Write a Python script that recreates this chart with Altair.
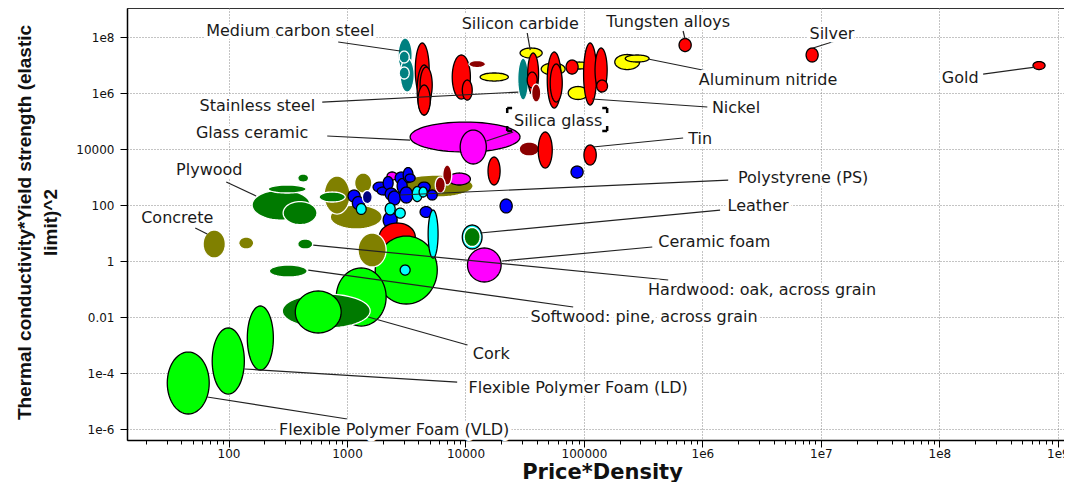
import numpy as np
import pandas as pd
import altair as alt

# ---------------- data: material bubbles (property ranges) ----------------
# kind codes: R metal, M dark metal, T steel, Y ceramic, P glass, O composite,
# G wood, L foam, B polymer, N dark polymer, C elastomer
ell_kind = [
    "P",
    "T", "T", "T", "T", "R", "R", "R", "R", "R", "R", "M", "Y", "Y", "T", "R", "R", "M",
    "Y", "Y", "Y", "Y", "R", "R", "R", "R", "R", "R", "Y", "Y", "R", "R", "R",
    "P", "M", "R", "R", "R", "B",
    "O", "O", "O", "G", "O", "P", "M", "M", "P",
    "B", "B", "C", "N", "B", "B", "B", "B", "B", "B", "B", "B", "B", "B",
    "B", "C", "C", "B", "B", "C", "C", "B", "B",
    "G", "G", "G", "G", "O", "O", "G", "G",
    "R", "L", "O", "C", "C", "C", "G", "P",
    "L", "G", "L", "L", "L", "L",
]
ell_x_lo = [
    3410,
    2700, 2810, 2760, 2760, 3770, 3910, 4140, 3980, 7730, 9400, 10700, 13300, 28900, 27600, 33500, 33200, 36200,
    43600, 73600, 73600, 102000, 49000, 51900, 70600, 99300, 124000, 128000, 182000, 223000, 635000, 7.5e6, 6.17e8,
    9020, 28400, 41100, 15500, 100000, 77800,
    723, 641, 1160, 582, 2760, 7140, 6430, 5560, 2180,
    1020, 1110, 1200, 1350, 1660, 1800, 2020, 2100, 2230, 2550, 2650, 2980, 3100, 2790,
    2020, 2100, 2550, 4140, 3980, 3550, 4060, 4750, 19600,
    158, 289, 216, 384, 61, 122, 384, 221,
    1870, 1730, 1240, 2810, 4840, 9400, 9750, 10400,
    811, 284, 366, 144, 72.8, 30.4,
]
ell_x_hi = [
    28900,
    3550, 3690, 3350, 3350, 4940, 5130, 5240, 5040, 11000, 11400, 14700, 23000, 44400, 34100, 41400, 40300, 43200,
    69300, 113000, 108000, 145000, 64300, 65600, 89300, 128000, 157000, 158000, 295000, 355000, 804000, 9.48e6, 7.8e8,
    15000, 41900, 54000, 19600, 127000, 98400,
    1980, 1060, 1620, 966, 11600, 11000, 7660, 6750, 2650,
    1290, 1400, 1450, 1630, 2180, 2280, 2450, 2650, 2820, 3220, 3220, 3610, 3760, 3590,
    2650, 2550, 3100, 5240, 5040, 4310, 4750, 5770, 24800,
    490, 558, 452, 474, 94, 163, 513, 461,
    3770, 5780, 2140, 3410, 5870, 13800, 13300, 20000,
    2140, 1570, 893, 239, 136, 68.7,
]
ell_y_lo = [
    7800,
    5.62e6, 1.08e6, 1.18e7, 3.16e6, 7.2e5, 1.64e5, 4.4e5, 1.64e5, 6.1e5, 5.6e5, 8.1e6, 2.68e6, 1.77e7, 5.6e5, 8.5e5, 1.51e6, 4.78e5,
    4.4e6, 7.2e6, 5.86e5, 7.2e6, 2.91e5, 4.76e5, 4.76e6, 3.72e5, 1.08e6, 1.09e6, 6.9e6, 1.28e7, 3.03e7, 1.28e7, 6.9e6,
    2910, 5620, 2090, 518, 2680, 920,
    13.9, 47.6, 268, 128, 193, 518, 518, 268, 780,
    128, 69, 46, 113, 290, 228, 357, 151, 100, 562, 257, 635, 662, 118,
    15, 44, 34, 36, 290, 133, 193, 151, 52,
    29, 20, 268, 662, 1.28, 2.68, 2.68, 0.268,
    2.28, 0.0291, 0.61, 0.315, 1.28, 2.68, 3.3, 0.178,
    0.00476, 0.00405, 0.00269, 1.28e-4, 1.77e-5, 3.43e-6,
]
ell_y_hi = [
    92000,
    9.2e7, 1.77e7, 3.15e7, 8.5e6, 6.1e7, 1.0e7, 8.5e6, 1.93e6, 2.28e7, 2.91e6, 1.45e7, 5.2e6, 4.05e7, 1.78e7, 2.68e7, 5.6e6, 2.09e6,
    1.18e7, 1.28e7, 1.71e6, 2.28e7, 2.91e7, 1.09e7, 1.51e7, 6.1e7, 4.05e7, 2.91e6, 2.37e7, 2.28e7, 8.83e7, 4.05e7, 1.33e7,
    47600, 17800, 40500, 5180, 13900, 2470,
    100, 1090, 1390, 291, 1180, 1390, 2680, 1000, 1510,
    343, 201, 113, 329, 662, 440, 1040, 404, 316, 1510, 883, 2180, 1280, 440,
    56, 118, 78, 88, 662, 457, 440, 344, 164,
    344, 133, 518, 1280, 12.8, 7.18, 6.11, 0.718,
    22.8, 7.8, 10, 0.72, 66, 19.3, 15.7, 2.91,
    0.562, 0.0662, 0.0849, 0.0247, 4.05e-3, 5.61e-4,
]

# ---------------- data: labels and leader lines ----------------
lab_text = [
    "Medium carbon steel", "Stainless steel", "Glass ceramic", "Silicon carbide",
    "Tungsten alloys", "Silver", "Aluminum nitride", "Gold", "Nickel", "Silica glass",
    "Tin", "Plywood", "Polystyrene (PS)", "Concrete", "Leather", "Ceramic foam",
    "Hardwood: oak, across grain", "Softwood: pine, across grain", "Cork",
    "Flexible Polymer Foam (LD)", "Flexible Polymer Foam (VLD)",
]
lab_x = [332, 175, 158, 2.9e4, 5.14e5, 1.24e7, 3.58e6, 1.5e8, 1.92e6, 6.05e4,
         9.57e5, 68.8, 7.08e6, 36.9, 2.95e6, 1.26e6, 3.19e6, 3.22e5, 1.65e4, 8.93e4, 2500]
lab_y = [1.64e8, 3.43e5, 3.72e4, 2.91e8, 3.43e8, 1.28e8, 2.91e6, 3.43e6, 2.91e5, 1.0e5,
         2.28e4, 1780, 920, 34.3, 92, 4.76, 0.092, 0.01, 4.76e-4, 2.91e-5, 9.2e-7]
ld_x1 = [843, 618, 681, 3.32e4, 6.87e5, 8.59e6, 3.48e5, 2.34e8, 1.17e5, 2.53e4,
         1.19e5, 95.7, 2810, 52.4, 1.33e4, 2.04e4, 519, 471, 1510, 136, 66.1]
ld_y1 = [6.62e7, 4.76e5, 2.91e4, 1.39e8, 1.64e8, 4.05e7, 1.64e7, 4.76e6, 6.1e5, 4.05e4,
         1.18e4, 662, 228, 15.1, 10, 1.0, 3.72, 0.476, 0.01, 1.39e-4, 1.39e-5]
ld_x2 = [2810, 2.79e4, 3410, 3.52e4, 7.14e5, 1.32e7, 1.1e6, 6.43e8, 1.1e6, 1.5e4,
         6.87e5, 171, 1.65e6, 66.1, 1.41e6, 3.77e5, 5.14e5, 8.11e4, 1.04e4, 8510, 1005]
ld_y2 = [3.16e7, 1.08e6, 2.09e4, 3.43e7, 8.47e7, 7.2e7, 6.1e6, 8.47e6, 3.16e5, 1.93e4,
         2.47e4, 209, 780, 9.2, 66.2, 3.16, 0.21, 0.0228, 1e-3, 4.76e-5, 2.28e-6]

# selection bracket around "Silica glass"
box_x = [2.25e4, 1.57e5]
box_y = [4.4e4, 2.91e5]

x_ticks = [100, 1000, 10000, 100000, 1e6, 1e7, 1e8, 1e9]
y_ticks = [1e-6, 1e-4, 0.01, 1, 100, 10000, 1e6, 1e8]
x_domain = [13.9, 1.127e9]
y_domain = [4.05e-7, 1.087e9]

# ---------------- styling ----------------
kind_fill = {"R": "#ff0000", "M": "#8b0000", "T": "#008080", "Y": "#ffff00", "P": "#ff00ff",
             "O": "#808000", "G": "#007a00", "L": "#00ff00", "B": "#0000ff", "N": "#000080",
             "C": "#00ffff"}
kind_stroke = {"R": "black", "M": "white", "T": "white", "Y": "black", "P": "black",
               "O": "white", "G": "white", "L": "black", "B": "black", "N": "white",
               "C": "black"}

# ellipse outlines (in log space, which is linear on screen)
t = np.linspace(0, 2 * np.pi, 61)
rows = []
for i, k in enumerate(ell_kind):
    lx0, lx1 = np.log10(ell_x_lo[i]), np.log10(ell_x_hi[i])
    ly0, ly1 = np.log10(ell_y_lo[i]), np.log10(ell_y_hi[i])
    cx, rx = (lx0 + lx1) / 2, (lx1 - lx0) / 2
    cy, ry = (ly0 + ly1) / 2, (ly1 - ly0) / 2
    for j, tt in enumerate(t):
        rows.append({"id": f"e{i:03d}", "k": j,
                     "x": 10 ** (cx + rx * np.cos(tt)), "y": 10 ** (cy + ry * np.sin(tt)),
                     "fill": kind_fill[k], "stroke": kind_stroke[k]})
ell_df = pd.DataFrame(rows)

lab_df = pd.DataFrame({"text": lab_text, "x": lab_x, "y": lab_y})
ld_df = pd.DataFrame({"x": ld_x1, "y": ld_y1, "x2": ld_x2, "y2": ld_y2})

# bracket corners
hx, hy = 1.10, 1.51
bx0, bx1 = box_x
by0, by1 = box_y
br_df = pd.DataFrame({
    "x":  [bx0, bx0, bx1 / hx, bx1, bx0, bx0, bx1 / hx, bx1],
    "x2": [bx0 * hx, bx0, bx1, bx1, bx0 * hx, bx0, bx1, bx1],
    "y":  [by1, by1 / hy, by1, by1 / hy, by0, by0, by0, by0],
    "y2": [by1, by1, by1, by1, by0, by0 * hy, by0, by0 * hy],
})

minor = [m * d for d in [10, 100, 1000, 1e4, 1e5, 1e6, 1e7, 1e8] for m in range(2, 10)
         if x_domain[0] <= m * d <= x_domain[1]]

label_expr = ("(datum.value >= 1e6 || datum.value < 0.001) ? "
              "'1e' + round(log(datum.value) / LN10) : format(datum.value, '~g')")

xs = alt.Scale(type="log", domain=x_domain, nice=False)
ys = alt.Scale(type="log", domain=y_domain, nice=False)

x_axis = alt.Axis(values=x_ticks, labelExpr=label_expr, title="Price*Density",
                  grid=True, gridDash=[1, 2], gridColor="#888", gridWidth=1,
                  tickSize=7, tickColor="black", domainColor="black", domainWidth=1.5,
                  labelFont="DejaVu Sans", labelFontSize=12, labelColor="#111", labelPadding=1,
                  titleFont="DejaVu Sans", titleFontSize=21, titleFontWeight="bold",
                  titleColor="#111", titleX=475, titleY=38, titleBaseline="alphabetic",
                  titleAlign="center")
y_axis = alt.Axis(values=y_ticks, labelExpr=label_expr,
                  title=["Thermal conductivity*Yield strength (elastic", "limit)^2"],
                  grid=True, gridDash=[1, 2], gridColor="#888", gridWidth=1,
                  tickSize=7, tickColor="black", domainColor="black", domainWidth=1.5,
                  labelFont="DejaVu Sans", labelFontSize=12, labelColor="#111", labelPadding=6,
                  titleFont="Liberation Sans", titleFontSize=19,
                  titleFontWeight="bold", titleColor="#111", titleAngle=270,
                  titleX=-112, titleY=214, titleAlign="center", titleBaseline="top",
                  titleLineHeight=26)

Y = alt.Y("y:Q", scale=ys, axis=y_axis)

ellipses = alt.Chart(ell_df).mark_line(filled=True, strokeWidth=1.3, clip=True).encode(
    x=alt.X("x:Q", scale=xs, axis=x_axis),
    y=Y,
    detail="id:N",
    order="k:Q",
    fill=alt.Fill("fill:N", scale=None),
    stroke=alt.Stroke("stroke:N", scale=None),
)

leaders = alt.Chart(ld_df).mark_rule(color="#222", strokeWidth=1.2).encode(
    x=alt.X("x:Q", scale=xs, axis=None), x2="x2:Q",
    y=Y, y2="y2:Q",
)

bracket = alt.Chart(br_df).mark_rule(color="black", strokeWidth=2.5).encode(
    x=alt.X("x:Q", scale=xs, axis=None), x2="x2:Q",
    y=Y, y2="y2:Q",
)

halo = alt.Chart(lab_df).mark_text(font="DejaVu Sans", fontSize=16, stroke="white",
                                   strokeWidth=7, strokeJoin="round", fill="white").encode(
    x=alt.X("x:Q", scale=xs, axis=None),
    y=Y,
    text="text:N",
)

labels = alt.Chart(lab_df).mark_text(font="DejaVu Sans", fontSize=16, color="#1a1a1a").encode(
    x=alt.X("x:Q", scale=xs,
            axis=alt.Axis(values=minor, labels=False, grid=False, domain=False, ticks=True,
                          tickSize=4, tickColor="black", title=None, orient="bottom")),
    y=Y,
    text="text:N",
)

chart = alt.layer(ellipses, leaders, bracket, halo, labels).resolve_axis(
    x="independent"
).properties(
    width=937, height=432,
    autosize=alt.AutoSizeParams(type="none"),
    padding={"left": 119, "top": 0, "right": 0, "bottom": 42},
    background="white",
).configure_view(stroke="#333", strokeWidth=1)

chart.save("out.html", embed_options={"renderer": "svg", "actions": False})
